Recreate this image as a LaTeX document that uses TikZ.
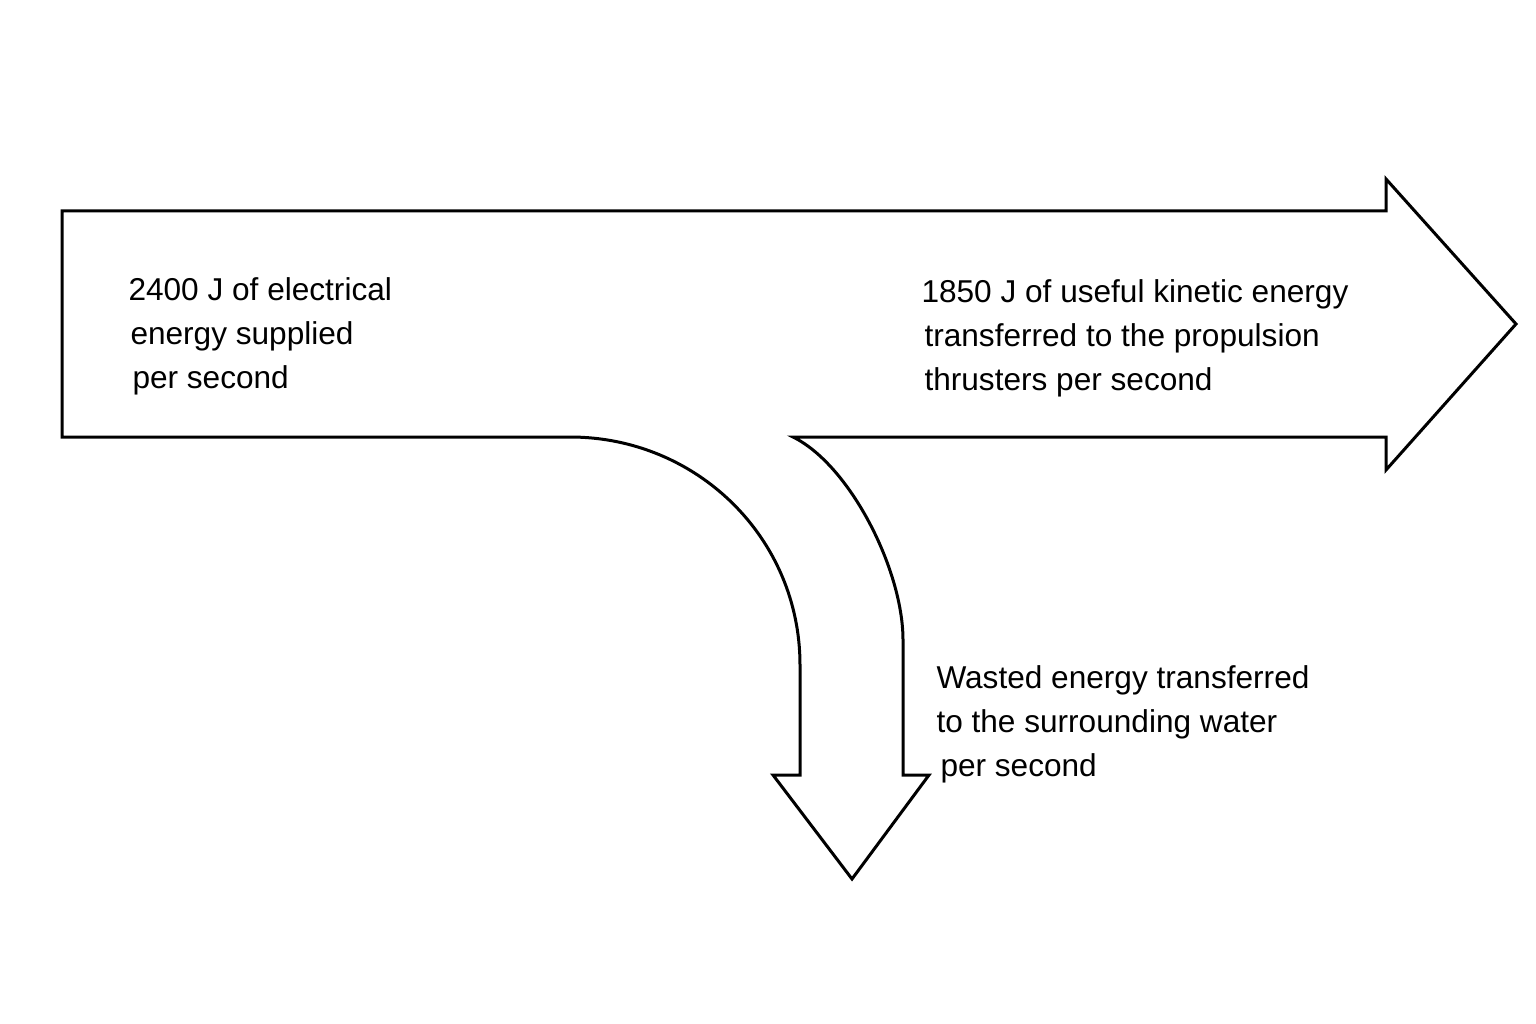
\documentclass[tikz,border=0pt]{standalone}
\usepackage{fontspec}
\setmainfont{Liberation Sans}
\begin{document}
\begin{tikzpicture}[x=1pt,y=-1pt,line width=3pt,line join=miter,
	lbl/.style={anchor=base west,inner sep=0pt,align=left,font=\fontsize{31.6}{44}\selectfont}]
	\useasboundingbox (0,0) rectangle (1536,1024);
	\draw (62,211) -- (1386,211) -- (1386,179) -- (1516,324) -- (1386,470) -- (1386,437) -- (793,437)
		.. controls (850,465) and (903,570) .. (903,640) -- (903,775) -- (929,775) -- (852,879) -- (773,775)
		-- (800,775) -- (800,665) .. controls (800,538) and (697,437) .. (570,437) -- (62,437) -- cycle;
	\node[lbl] (in) at (127,388) {2400 J of electrical\\\hspace{2pt}energy supplied\\\hspace{4pt}per second};
	\node[lbl] (use) at (920,390) {1850 J of useful kinetic energy\\\hspace{3pt}transferred to the propulsion\\\hspace{3pt}thrusters per second};
	\node[lbl] (waste) at (935,776) {Wasted energy transferred\\to the surrounding water\\\hspace{4pt}per second};
\end{tikzpicture}
\end{document}
